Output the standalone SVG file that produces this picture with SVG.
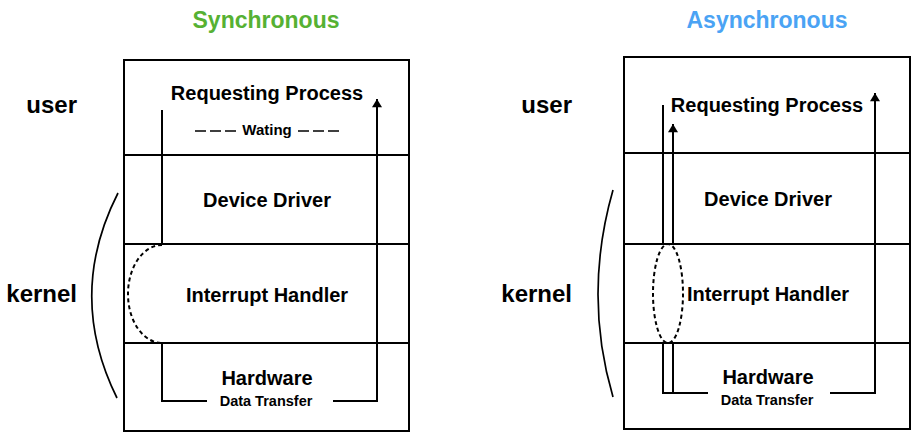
<svg xmlns="http://www.w3.org/2000/svg" width="913" height="433" viewBox="0 0 913 433">
<style>
text{font-family:"Liberation Sans",Arial,sans-serif;font-weight:bold;fill:#000}
.title{font-size:23px;text-anchor:middle}
.side{font-size:24px;text-anchor:end}
.lbl{font-size:20px;text-anchor:middle}
.small{font-size:14.5px;text-anchor:middle}
.box{fill:#fff;stroke:#000;stroke-width:2}
.row{stroke:#000;stroke-width:2}
.conn{fill:none;stroke:#000;stroke-width:2}
.dash{fill:none;stroke:#000;stroke-width:2;stroke-dasharray:4 3}
.brace{fill:none;stroke:#000;stroke-width:1.7}
</style>
<defs>
<marker id="arr" viewBox="0 0 10 12" refX="10" refY="6" markerWidth="12" markerHeight="10" markerUnits="userSpaceOnUse" orient="auto">
<path d="M0,0 L10,6 L0,12 z" fill="#000"/>
</marker>
</defs>
<rect width="913" height="433" fill="#fff"/>

<g id="sync">
<text class="title" x="266" y="28" style="fill:#56b133">Synchronous</text>
<text class="side" x="77" y="113">user</text>
<text class="side" x="77" y="302">kernel</text>
<path class="brace" d="M118,193 Q66,295 117,398"/>
<rect class="box" x="124" y="60" width="285" height="371"/>
<line class="row" x1="124" y1="155" x2="409" y2="155"/>
<line class="row" x1="124" y1="244" x2="409" y2="244"/>
<line class="row" x1="124" y1="343" x2="409" y2="343"/>
<g id="s-req"><text class="lbl" x="267" y="100">Requesting Process</text></g>
<g id="s-wait">
<line x1="195" y1="131" x2="237" y2="131" stroke="#000" stroke-width="1.7" stroke-dasharray="11 4"/>
<text class="small" x="267" y="135" style="font-size:15px">Wating</text>
<line x1="298" y1="131" x2="340" y2="131" stroke="#000" stroke-width="1.7" stroke-dasharray="11 4"/>
</g>
<g id="s-dd"><text class="lbl" x="267" y="207">Device Driver</text></g>
<g id="s-ih"><text class="lbl" x="267" y="302">Interrupt Handler</text></g>
<g id="s-hw"><text class="lbl" x="267" y="385">Hardware</text>
<text class="small" x="266" y="406">Data Transfer</text></g>
</g>

<g id="async">
<text class="title" x="767" y="28" style="fill:#4aa3f4">Asynchronous</text>
<text class="side" x="572" y="113">user</text>
<text class="side" x="572" y="302">kernel</text>
<path class="brace" d="M613,190 Q583,295 613,397"/>
<rect class="box" x="624" y="57" width="286" height="372"/>
<line class="row" x1="624" y1="153" x2="910" y2="153"/>
<line class="row" x1="624" y1="244" x2="910" y2="244"/>
<line class="row" x1="624" y1="343" x2="910" y2="343"/>
<g id="a-req"><text class="lbl" x="767" y="112">Requesting Process</text></g>
<g id="a-dd"><text class="lbl" x="768" y="206">Device Driver</text></g>
<g id="a-ih"><text class="lbl" x="768" y="301">Interrupt Handler</text></g>
<g id="a-hw"><text class="lbl" x="768" y="384">Hardware</text>
<text class="small" x="767" y="405">Data Transfer</text></g>
</g>

<g id="connectors">
<path class="conn" d="M162,110 V245"/>
<path class="dash" d="M162,245 A34,49 0 0 0 162,343"/>
<path class="conn" d="M162,343 V401 H207"/>
<path class="conn" d="M333,401 H377 V99" marker-end="url(#arr)"/>

<path class="conn" d="M663,105 V244"/>
<ellipse class="dash" cx="668" cy="293.5" rx="15" ry="49.5"/>
<path class="conn" d="M663,343 V393 H708"/>
<path class="conn" d="M673,392 V343"/>
<path class="conn" d="M673,244 V124" marker-end="url(#arr)"/>
<path class="conn" d="M830,393 H875 V93" marker-end="url(#arr)"/>
</g>
</svg>
